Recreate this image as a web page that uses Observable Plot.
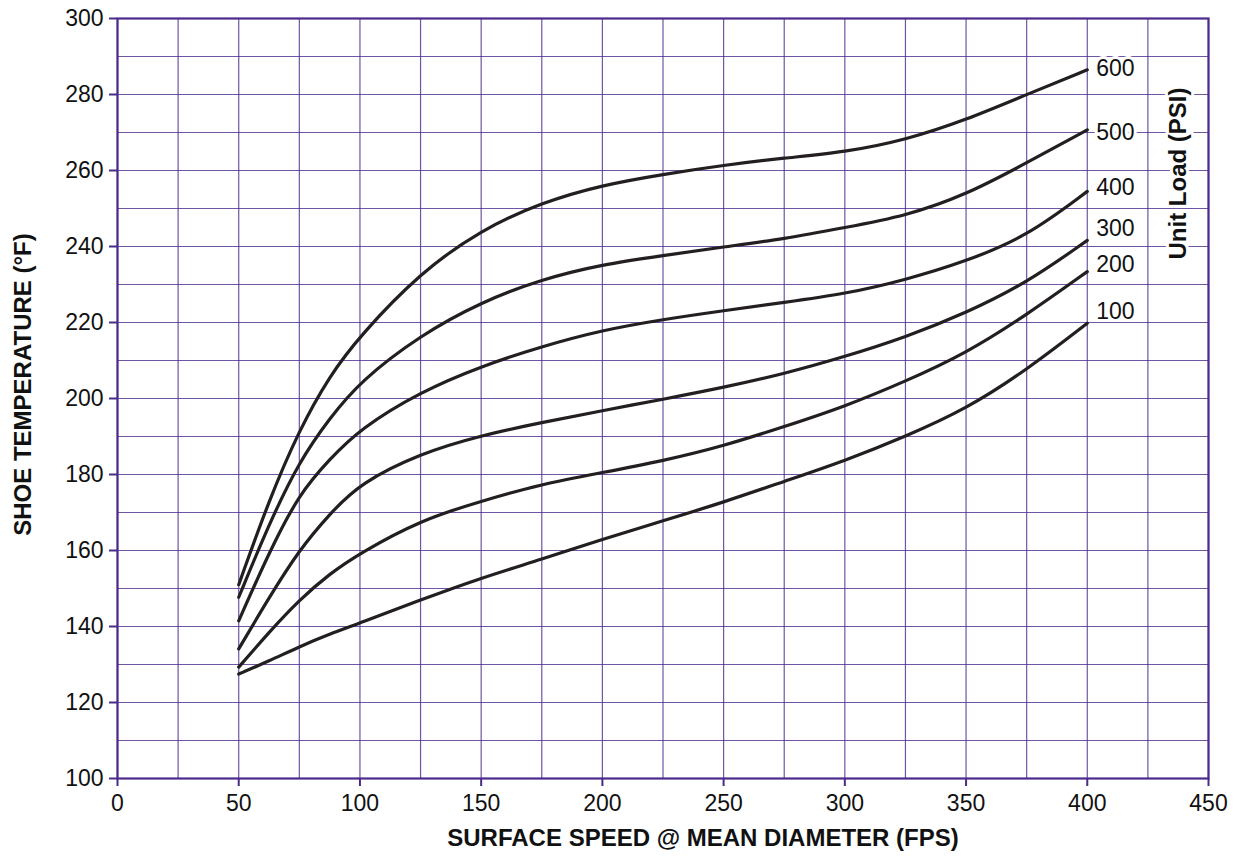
<!DOCTYPE html>
<html><head><meta charset="utf-8">
<script src="https://cdn.jsdelivr.net/npm/d3@7"></script>
<script src="https://cdn.jsdelivr.net/npm/@observablehq/plot@0.6"></script>
<style>body{margin:0;background:#fff;} svg{display:block;}</style>
</head><body><div id="chart"></div>
<script>
const speeds = [50, 62.5, 75, 87.5, 100, 125, 150, 175, 200, 225, 250, 275, 300, 325, 350, 375, 400];
const loads = [100, 200, 300, 400, 500, 600];
const temp100 = [127.5, 130.9, 134.7, 138.0, 140.9, 147.0, 152.8, 157.7, 163.0, 167.8, 172.7, 178.2, 183.6, 190.0, 197.2, 207.5, 219.8];
const temp200 = [129.3, 138.5, 147.0, 153.9, 159.3, 168.0, 173.0, 177.5, 180.5, 183.6, 187.5, 192.6, 197.9, 204.5, 211.9, 222.0, 233.4];
const temp300 = [134.1, 147.6, 160.2, 169.6, 177.7, 185.6, 190.3, 193.7, 196.8, 199.8, 202.9, 206.5, 211.0, 216.1, 222.5, 230.4, 241.6];
const temp400 = [141.5, 159.5, 175.0, 184.0, 192.0, 201.8, 208.5, 213.7, 218.0, 220.8, 223.1, 225.3, 227.5, 231.2, 236.1, 242.6, 254.5];
const temp500 = [147.7, 167.0, 183.5, 194.8, 204.5, 216.7, 225.4, 231.4, 235.3, 237.6, 239.9, 242.0, 245.0, 248.0, 253.6, 262.0, 270.7];
const temp600 = [151.0, 173.3, 191.8, 206.0, 216.5, 233.2, 244.4, 251.6, 256.2, 259.0, 261.4, 263.3, 264.8, 268.0, 273.3, 280.0, 286.5];
const labelTemps = [222.9, 235.2, 244.6, 255.6, 269.9, 286.8];
const xTicks = [0, 50, 100, 150, 200, 250, 300, 350, 400, 450];
const yTicks = [100, 120, 140, 160, 180, 200, 220, 240, 260, 280, 300];
const xGrid = d3.range(0, 451, 25);
const yGrid = d3.range(100, 301, 10);
const xTitle = "SURFACE SPEED @ MEAN DIAMETER (FPS)";
const yTitle = "SHOE TEMPERATURE (°F)";
const legendTitle = "Unit Load (PSI)";

const series = [temp100, temp200, temp300, temp400, temp500, temp600];
const rows = loads.flatMap((load, i) => speeds.map((s, j) => ({load, speed: s, temp: series[i][j]})));
const labels = loads.map((load, i) => ({load, speed: speeds[speeds.length - 1], temp: labelTemps[i]}));

const purple = "#4b2a8c";
const font = "23px";
const titleFont = "24px";
const chart = Plot.plot({
  width: 1235, height: 856,
  marginLeft: 117, marginRight: 27, marginTop: 18, marginBottom: 78,
  style: {fontFamily: "'Liberation Sans', Arial, sans-serif", fontSize: font, color: "#111", background: "white"},
  x: {domain: [0, 450]},
  y: {domain: [100, 300]},
  marks: [
    Plot.ruleX(xGrid, {stroke: purple, strokeWidth: 1.2, strokeOpacity: 0.8}),
    Plot.ruleY(yGrid, {stroke: purple, strokeWidth: 1.2, strokeOpacity: 0.8}),
    Plot.frame({stroke: purple, strokeWidth: 2.2}),
    Plot.axisX({ticks: xTicks, tickSize: 8, tickPadding: 8, stroke: purple, strokeWidth: 2, fill: "#111", fontSize: font, label: null}),
    Plot.axisY({ticks: yTicks, tickSize: 8, tickPadding: 6, stroke: purple, strokeWidth: 2, fill: "#111", fontSize: font, label: null}),
    Plot.line(rows, {x: "speed", y: "temp", z: "load", stroke: "#231f20", strokeWidth: 3.2, curve: "basis"}),
    Plot.text(labels, {x: "speed", y: "temp", text: d => String(d.load), dx: 9, textAnchor: "start", fill: "#111", stroke: "white", strokeWidth: 6, fontSize: font}),
    Plot.text([legendTitle], {frameAnchor: "top-right", dx: -30, dy: 155, rotate: -90, textAnchor: "middle", lineAnchor: "middle", fontWeight: "bold", fill: "#111", stroke: "white", strokeWidth: 6, fontSize: titleFont}),
    Plot.text([xTitle], {frameAnchor: "bottom", dx: 40, dy: 60, textAnchor: "middle", lineAnchor: "middle", fontWeight: "bold", fill: "#111", fontSize: titleFont}),
    Plot.text([yTitle], {frameAnchor: "left", dx: -94, dy: -14, rotate: -90, textAnchor: "middle", lineAnchor: "middle", fontWeight: "bold", fill: "#111", fontSize: titleFont})
  ]
});
document.getElementById("chart").append(chart);
</script>
</body></html>
